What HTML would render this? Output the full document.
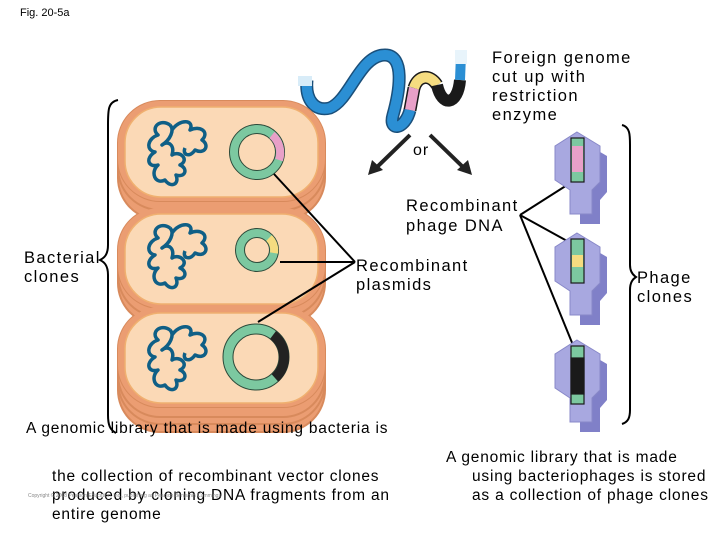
<!DOCTYPE html>
<html><head><style>
body{margin:0;background:#fff;}
svg{display:block;font-family:"Liberation Sans",sans-serif;}
</style></head><body>
<svg width="720" height="540" viewBox="0 0 720 540" xmlns="http://www.w3.org/2000/svg">
<text x="20" y="16" font-size="11">Fig. 20-5a</text>

<path d="M307,80 C305,100 315,112 330,108 C350,100 360,55 385,55 C405,55 400,90 393,115 C388,132 405,130 410,110" fill="none" stroke="#1a4f7a" stroke-width="13" stroke-linecap="butt"/>
<path d="M307,80 C305,100 315,112 330,108 C350,100 360,55 385,55 C405,55 400,90 393,115 C388,132 405,130 410,110" fill="none" stroke="#2b8fd4" stroke-width="10"/>
<path d="M410,110 L414,88" stroke="#1a1a1a" stroke-width="13"/>
<path d="M410,110 L414,88" stroke="#e8a0c8" stroke-width="10"/>
<path d="M414,88 C418,75 430,74 437,85" fill="none" stroke="#1a1a1a" stroke-width="13"/>
<path d="M414,88 C418,75 430,74 437,85" fill="none" stroke="#f5dc80" stroke-width="10"/>
<path d="M437,85 C442,108 458,105 460,80" fill="none" stroke="#1a1a1a" stroke-width="12"/>
<path d="M460,80 L461,55" stroke="#2b8fd4" stroke-width="10"/>
<rect x="455" y="50" width="12" height="14" fill="#e8f4fb"/>
<rect x="298" y="76" width="14" height="10" fill="#d8ecf8"/>

<line x1="410" y1="135" x2="375" y2="169" stroke="#222" stroke-width="4"/>
<polygon points="368,175 372,160 383,170" fill="#222"/>
<line x1="430" y1="135" x2="465" y2="169" stroke="#222" stroke-width="4"/>
<polygon points="472,175 468,160 457,170" fill="#222"/>
<text x="413" y="155" font-size="16" letter-spacing="1">or</text>

<g font-size="16.5" letter-spacing="1.4">
<text><tspan x="492" y="63">Foreign genome</tspan><tspan x="492" y="82">cut up with</tspan><tspan x="492" y="101">restriction</tspan><tspan x="492" y="120">enzyme</tspan></text>
<text><tspan x="406" y="211">Recombinant</tspan><tspan x="406" y="231">phage DNA</tspan></text>
<text><tspan x="356" y="271">Recombinant</tspan><tspan x="356" y="290">plasmids</tspan></text>
<text><tspan x="24" y="263">Bacterial</tspan><tspan x="24" y="282">clones</tspan></text>
<text><tspan x="637" y="283">Phage</tspan><tspan x="637" y="302">clones</tspan></text>
</g>

<path d="M118,100 C108,102 108,110 108,125 L108,245 C108,255 104,258 100,260 C104,262 108,265 108,275 L108,415 C108,425 110,430 116,433" fill="none" stroke="#000" stroke-width="2"/>
<path d="M622,125 C630,127 630,135 630,145 L630,265 C630,272 633,275 636,277 C633,279 630,282 630,290 L630,410 C630,418 628,422 622,424" fill="none" stroke="#000" stroke-width="2"/>

<g stroke="#d88a5c" stroke-width="2" fill="#eb9d72">
<rect x="118" y="328" width="207" height="104" rx="42"/>
<rect x="118" y="320" width="207" height="104" rx="42"/>
<rect x="118" y="313" width="207" height="104" rx="42"/>
<rect x="118" y="307" width="207" height="100" rx="42"/>
<rect x="118" y="225" width="207" height="100" rx="42"/>
<rect x="118" y="217" width="207" height="100" rx="42"/>
<rect x="118" y="208" width="207" height="100" rx="42"/>
<rect x="118" y="120" width="207" height="100" rx="42"/>
<rect x="118" y="110" width="207" height="100" rx="42"/>
<rect x="118" y="101" width="207" height="100" rx="42"/>
</g>
<rect x="118" y="101" width="207" height="100" rx="42" fill="#eb9d72"/>
<rect x="125" y="107" width="193" height="90" rx="36" fill="#fbd9b6" stroke="#f0b070" stroke-width="1.5"/>
<rect x="118" y="208" width="207" height="100" rx="42" fill="#eb9d72"/>
<rect x="125" y="214" width="193" height="90" rx="36" fill="#fbd9b6" stroke="#f0b070" stroke-width="1.5"/>
<rect x="118" y="307" width="207" height="100" rx="42" fill="#eb9d72"/>
<rect x="125" y="313" width="193" height="90" rx="36" fill="#fbd9b6" stroke="#f0b070" stroke-width="1.5"/>

<g fill="none" stroke="#0f5f86" stroke-width="3.5" stroke-linejoin="round">
<path id="chr" d="M170,125 C160,118 150,128 158,135 C148,138 145,150 155,152 C145,158 148,168 158,165 C150,172 155,185 165,180 C170,188 180,185 176,175 C186,178 188,168 180,165 C190,160 180,150 172,155 C175,145 168,140 162,145 C170,140 175,130 170,125 M172,130 C180,118 195,120 190,130 C200,125 210,132 202,140 C210,145 205,155 195,150 C190,158 182,155 185,148"/>
<use href="#chr" y="103"/>
<use href="#chr" y="205"/>
</g>

<circle cx="257" cy="152" r="23" fill="none" stroke="#2c4a3a" stroke-width="10"/>
<circle cx="257" cy="152" r="23" fill="none" stroke="#7cc8a0" stroke-width="8"/>
<path d="M272,135 A23,23 0 0 1 279,160" fill="none" stroke="#e8a0c8" stroke-width="8"/>
<circle cx="257" cy="250" r="17" fill="none" stroke="#2c4a3a" stroke-width="10"/>
<circle cx="257" cy="250" r="17" fill="none" stroke="#7cc8a0" stroke-width="8"/>
<path d="M269,238 A17,17 0 0 1 274,253" fill="none" stroke="#f5dc80" stroke-width="8"/>
<circle cx="256" cy="357" r="28" fill="none" stroke="#2c4a3a" stroke-width="11"/>
<circle cx="256" cy="357" r="28" fill="none" stroke="#7cc8a0" stroke-width="9"/>
<path d="M273,335 A28,28 0 0 1 275,378" fill="none" stroke="#222" stroke-width="10"/>

<g stroke="#000" stroke-width="2">
<line x1="274" y1="174" x2="355" y2="262"/>
<line x1="280" y1="262" x2="355" y2="262"/>
<line x1="258" y1="322" x2="355" y2="262"/>
<line x1="520" y1="215" x2="575" y2="180"/>
<line x1="520" y1="215" x2="578" y2="247"/>
<line x1="520" y1="215" x2="575" y2="350"/>
</g>

<defs>
<g id="phage">
<path d="M583,10 L607,24 L607,60 L600,68 L600,92 L580,92 L580,56 Z" fill="#8080c8"/>
<path d="M577,0 L600,14 L600,50 L592,58 L592,82 L570,82 L570,58 L555,48 L555,14 Z" fill="#a8a8e0" stroke="#8888c8" stroke-width="1"/>
</g>
</defs>
<use href="#phage" y="132"/>
<use href="#phage" y="233"/>
<use href="#phage" y="340"/>
<g stroke="#1a1a1a" stroke-width="1.2">
<rect x="571" y="138" width="13" height="44" fill="#7cc8a0"/>
<rect x="572" y="146" width="11" height="26" fill="#e8a0c8" stroke="none"/>
<rect x="571" y="239" width="13" height="44" fill="#7cc8a0"/>
<rect x="572" y="255" width="11" height="12" fill="#f5dc80" stroke="none"/>
<rect x="571" y="346" width="13" height="58" fill="#7cc8a0"/>
<rect x="571" y="358" width="13" height="36" fill="#1a1a1a"/>
</g>

<g font-size="15.5" letter-spacing="0.8">
<text><tspan x="26" y="433">A genomic library that is made using bacteria is</tspan><tspan x="52" y="481">the collection of recombinant vector clones</tspan><tspan x="52" y="500">produced by cloning DNA fragments from an</tspan><tspan x="52" y="519">entire genome</tspan></text>
<text><tspan x="446" y="462">A genomic library that is made</tspan><tspan x="472" y="481">using bacteriophages is stored</tspan><tspan x="472" y="500">as a collection of phage clones</tspan></text>
</g>
<text x="28" y="497" font-size="5" fill="#888">Copyright © 2008 Pearson Education, Inc., publishing as Pearson Benjamin Cummings</text>
</svg>
</body></html>
